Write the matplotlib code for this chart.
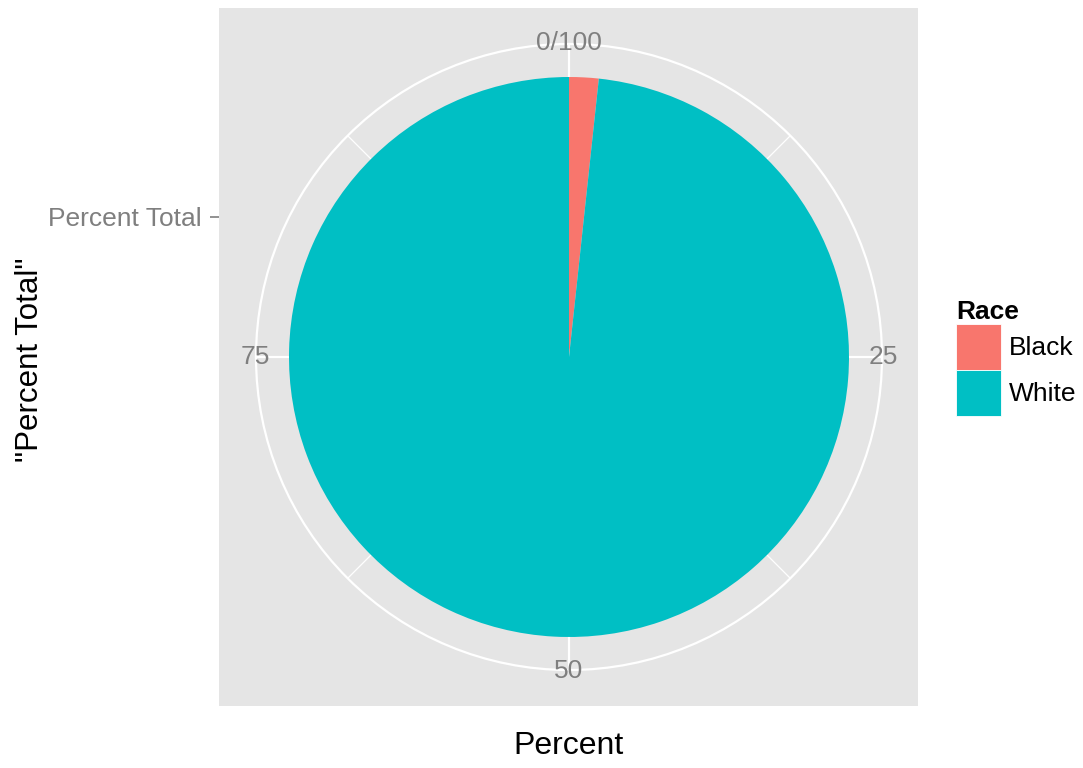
import numpy as np
import matplotlib
matplotlib.use("Agg")
import matplotlib.pyplot as plt
from matplotlib.patches import Circle, Patch

plt.rcParams["font.family"] = ["Liberation Sans", "DejaVu Sans"]

# data
race = ["Black", "White"]
percent = [1.7, 98.3]
colours = ["#F8766D", "#00BFC4"]
major_breaks = [0, 25, 50, 75]
major_labels = ["0/100", "25", "50", "75"]
minor_breaks = [12.5, 37.5, 62.5, 87.5]

PANEL, GRIDC, TXT = "#E5E5E5", "#FFFFFF", "#7F7F7F"
R_PIE, R_GRID = 280, 313

fig = plt.figure(figsize=(10.83, 7.68), dpi=100)
fig.patch.set_facecolor("white")
ax = fig.add_axes([219 / 1083, 62 / 768, 699 / 1083, 698 / 768])
ax.set_facecolor(PANEL)


def theta(v):
    return np.deg2rad(90 - v * 3.6)


# grid: outer circle + radial spokes
ax.add_patch(Circle((0, 0), R_GRID, fill=False, edgecolor=GRIDC, linewidth=1.6, zorder=1))
for v in major_breaks:
    a = theta(v)
    ax.plot([0, R_GRID * np.cos(a)], [0, R_GRID * np.sin(a)], color=GRIDC, lw=1.6, zorder=1)
for v in minor_breaks:
    a = theta(v)
    ax.plot([0, R_GRID * np.cos(a)], [0, R_GRID * np.sin(a)], color=GRIDC, lw=0.9, zorder=1)

wedges, _ = ax.pie(percent, colors=colours, startangle=90, counterclock=False,
                   radius=R_PIE, center=(0, 0), frame=True,
                   wedgeprops=dict(linewidth=0, zorder=2))

for v, lab in zip(major_breaks, major_labels):
    a = theta(v)
    ax.text((R_GRID + 1) * np.cos(a), (R_GRID + 1) * np.sin(a), lab, fontsize=19,
            color=TXT, ha="center", va="center", zorder=3)

ax.set_xlim(-350, 349)
ax.set_ylim(-349, 349)
ax.set_aspect("auto")
for s in ax.spines.values():
    s.set_visible(False)
ax.set_xticks([])
ax.set_yticks([140])
ax.set_yticklabels(["Percent Total"], fontsize=19, color=TXT)
ax.tick_params(axis="y", length=6.5, width=1.2, color=TXT, pad=6)

fig.text(569 / 1083, 1 - 746 / 768, "Percent", fontsize=23, ha="center", va="center")
fig.text(30 / 1083, 1 - 360 / 768, '"Percent Total"', fontsize=22.5, rotation=90,
         ha="center", va="center")

handles = [Patch(facecolor=c, edgecolor="white", linewidth=0.6, label=r)
           for c, r in zip(colours, race)]
leg = fig.legend(handles=handles, title="Race", loc="upper left",
                 bbox_to_anchor=(956 / 1083, 1 - 300 / 768), frameon=False,
                 fontsize=19, title_fontsize=19, handlelength=1.7, handleheight=2.3,
                 handletextpad=0.3, labelspacing=0.0, borderaxespad=0, borderpad=0)
leg.get_title().set_fontweight("bold")
leg._legend_box.align = "left"

fig.savefig("out.png", dpi=100, facecolor="white")
